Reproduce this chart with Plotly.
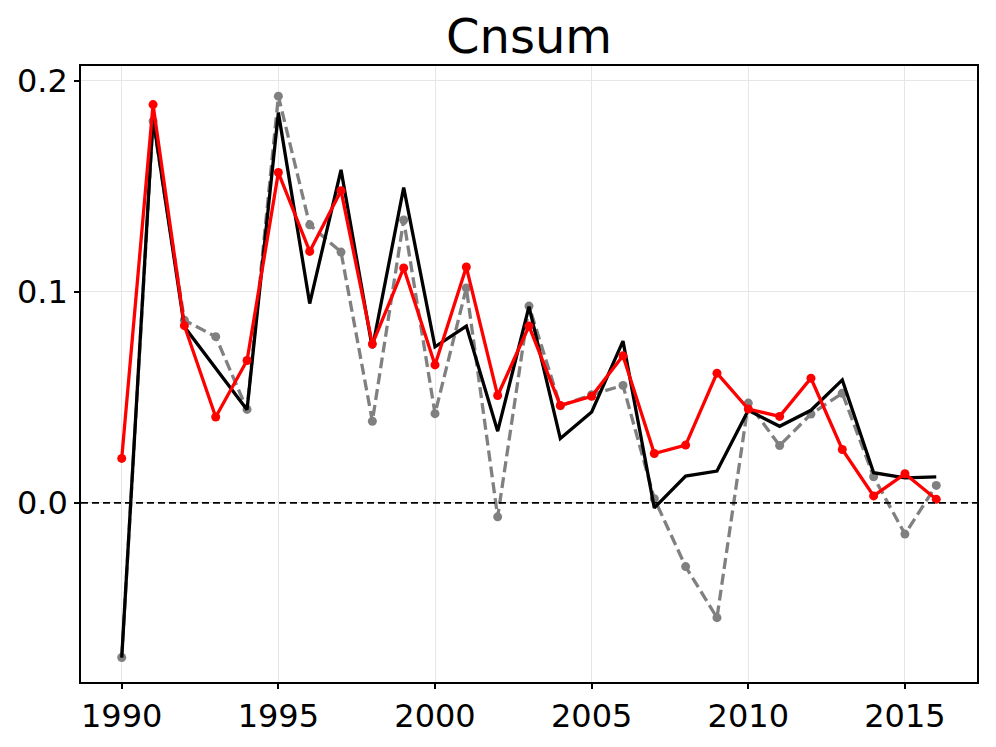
import plotly.graph_objects as go

years = list(range(1990, 2017))

# red series (with markers)
red_vals = [0.0211, 0.1888, 0.0840, 0.0407, 0.0675, 0.1566, 0.1192, 0.1480, 0.0753, 0.1114,
            0.0654, 0.1118, 0.0509, 0.0838, 0.0462, 0.0505, 0.0697, 0.0234, 0.0274, 0.0615,
            0.0445, 0.0410, 0.0591, 0.0253, 0.0033, 0.0138, 0.0017]

# black solid series
black_vals = [-0.0733, 0.1825, 0.0835, 0.0640, 0.0442, 0.1850, 0.0945, 0.1579, 0.0733, 0.1495,
              0.0740, 0.0838, 0.0340, 0.0930, 0.0305, 0.0431, 0.0767, -0.0024, 0.0127, 0.0151,
              0.0439, 0.0363, 0.0439, 0.0583, 0.0143, 0.0119, 0.0123]

# grey dashed series (with markers)
grey_vals = [-0.0733, 0.1810, 0.0866, 0.0788, 0.0443, 0.1928, 0.1318, 0.1189, 0.0387, 0.1341,
             0.0423, 0.1019, -0.0066, 0.0933, 0.0460, 0.0513, 0.0557, 0.0020, -0.0302, -0.0544,
             0.0473, 0.0272, 0.0421, 0.0520, 0.0124, -0.0148, 0.0083]

title = "Cnsum"
font = "DejaVu Sans"

fig = go.Figure()

fig.add_trace(go.Scatter(
    x=years, y=grey_vals, mode="lines+markers",
    line=dict(color="#808080", width=3.3, dash="11px,5px"),
    marker=dict(color="#808080", size=9),
    showlegend=False,
))
fig.add_trace(go.Scatter(
    x=years, y=black_vals, mode="lines",
    line=dict(color="black", width=3.3),
    showlegend=False,
))
fig.add_trace(go.Scatter(
    x=years, y=red_vals, mode="lines+markers",
    line=dict(color="#ff0000", width=3.3),
    marker=dict(color="#ff0000", size=9),
    showlegend=False,
))

# zero reference line
fig.add_shape(type="line", xref="paper", x0=0, x1=1, yref="y", y0=0, y1=0,
              line=dict(color="black", width=1.6, dash="7px,4px"), layer="above")

fig.update_layout(
    width=996, height=747,
    paper_bgcolor="white", plot_bgcolor="white",
    margin=dict(l=81, r=19, t=66, b=62),
    title=dict(text=title, xref="paper", x=0.5, xanchor="center", y=0.974, yanchor="top",
               font=dict(family=font, size=48, color="black")),
    font=dict(family=font, color="black"),
)

fig.update_xaxes(
    range=[1988.7, 2017.3], tickmode="array", tickvals=[1990, 1995, 2000, 2005, 2010, 2015],
    showgrid=True, gridcolor="#e6e6e6", gridwidth=1, zeroline=False,
    showline=True, linecolor="black", linewidth=1.5, mirror=True,
    ticks="outside", ticklen=5, tickwidth=1.5, tickcolor="black",
    tickfont=dict(family=font, size=32, color="black"),
)
fig.update_yaxes(
    range=[-0.0849, 0.2071], tickmode="array", tickvals=[0.0, 0.1, 0.2], tickformat=".1f",
    showgrid=True, gridcolor="#e6e6e6", gridwidth=1, zeroline=False,
    showline=True, linecolor="black", linewidth=1.5, mirror=True,
    ticks="outside", ticklen=5, tickwidth=1.5, tickcolor="black",
    tickfont=dict(family=font, size=32, color="black"),
)

fig.write_html("out.html", config={"displayModeBar": False},
               post_script="document.body.style.margin='0';")
